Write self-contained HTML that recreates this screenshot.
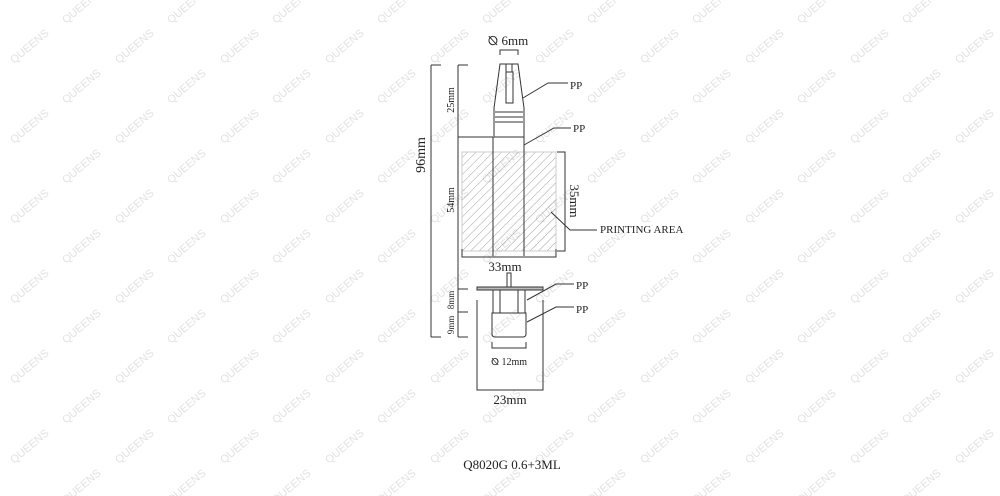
<!DOCTYPE html>
<html><head><meta charset="utf-8"><style>
html,body{margin:0;padding:0;background:#fff;}
svg{display:block;}
</style></head><body>
<svg width="1000" height="496" viewBox="0 0 1000 496" xmlns="http://www.w3.org/2000/svg">
<defs>
<pattern id="wm" width="105" height="80" patternUnits="userSpaceOnUse">
<text x="0" y="0" transform="translate(14,64) rotate(-40)" font-family="Liberation Sans, sans-serif" font-size="11" fill="#e2e2e2">QUEENS</text>
</pattern>
<pattern id="wm2" width="105" height="80" patternUnits="userSpaceOnUse" patternTransform="translate(52,40)">
<text x="0" y="0" transform="translate(14,64) rotate(-40)" font-family="Liberation Sans, sans-serif" font-size="11" fill="#e2e2e2">QUEENS</text>
</pattern>
<pattern id="hatch" width="6" height="6" patternUnits="userSpaceOnUse" patternTransform="rotate(45)">
<line x1="0" y1="0" x2="0" y2="6" stroke="#666" stroke-width="0.6"/>
</pattern>
</defs>
<rect width="1000" height="496" fill="url(#wm)"/>
<rect width="1000" height="496" fill="url(#wm2)"/>
<g stroke="#333" stroke-width="1" fill="none">
<path d="M431 65V337M431 65H441M431 337H441"/>
<path d="M458 65V337M458 65H468M458 137H493M458 289H468M458 312H468M458 337H468"/>
<path d="M500 55V50H518V55"/>
<path d="M500 64H518L524 108V137H494V108Z"/>
<path d="M506 64V72M512 64V72M506 72H513V103H506Z"/>
<path d="M495 112H523M495 117H523M495 122H523"/>
<rect x="462" y="152" width="94" height="99" fill="url(#hatch)" stroke="#ccc"/>
<path d="M493 137V256M524 137V256"/>
<path d="M557 152H565V251H557"/>
<path d="M462 249V257H556V249"/>
<path d="M507 273H511V288H507Z"/>
<rect x="477" y="287" width="66" height="3" fill="#bbb"/>
<path d="M493 290H525V313H493Z M500 290V313M518 290V313"/>
<path d="M492 313H526V334Q526 337 523 337H495Q492 337 492 334Z"/>
<path d="M492 342V348H526V342"/>
<path d="M477 300V390H543V300"/>
<path d="M523 98L548 83H568M524 145L554 128H571M527 300L556 284H574M527 322L556 307H574M551 212L570 230H597"/>
</g>
<g font-family="Liberation Serif, serif" fill="#222">
<text x="508" y="45" font-size="13" text-anchor="middle">⦰ 6mm</text>
<text x="570" y="89" font-size="11">PP</text>
<text x="573" y="132" font-size="11">PP</text>
<text x="576" y="289" font-size="11">PP</text>
<text x="576" y="313" font-size="11">PP</text>
<text x="600" y="233" font-size="11">PRINTING AREA</text>
<text x="505" y="271" font-size="13" text-anchor="middle">33mm</text>
<text x="509" y="365" font-size="10" text-anchor="middle">⦰ 12mm</text>
<text x="510" y="404" font-size="13" text-anchor="middle">23mm</text>
<text x="512" y="469" font-size="13" text-anchor="middle">Q8020G 0.6+3ML</text>
<text transform="translate(425,155) rotate(-90)" font-size="14" text-anchor="middle">96mm</text>
<text transform="translate(454,100) rotate(-90)" font-size="10" text-anchor="middle">25mm</text>
<text transform="translate(454,200) rotate(-90)" font-size="10" text-anchor="middle">54mm</text>
<text transform="translate(454,300) rotate(-90)" font-size="9" text-anchor="middle">8mm</text>
<text transform="translate(454,325) rotate(-90)" font-size="9" text-anchor="middle">9mm</text>
<text transform="translate(570,201) rotate(90)" font-size="13" text-anchor="middle">35mm</text>
</g>
</svg>
</body></html>
